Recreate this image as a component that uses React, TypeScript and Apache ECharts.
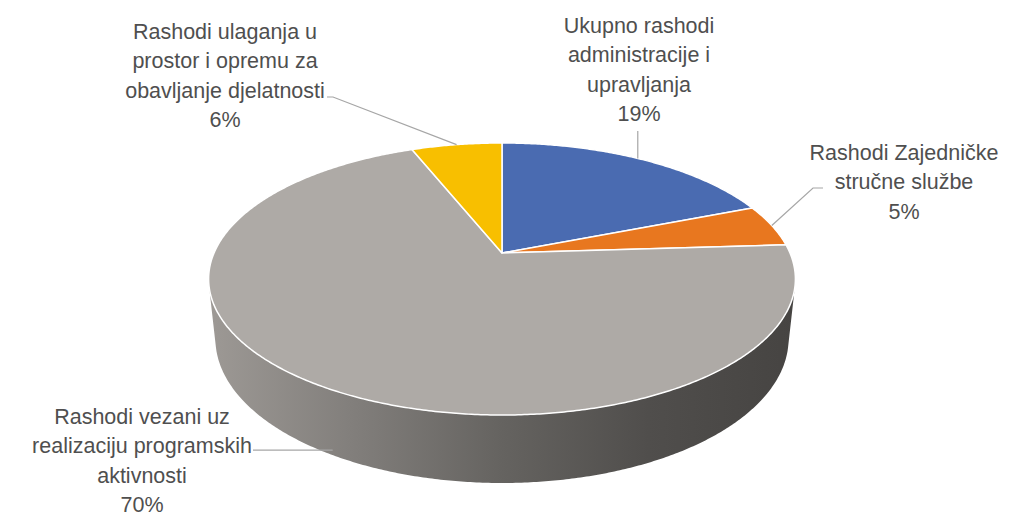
import React, { useEffect, useRef } from "react";
import * as echarts from "echarts";

// ---- data ----
const categories = [
  "Ukupno rashodi\nadministracije i\nupravljanja",
  "Rashodi Zajedničke\nstručne službe",
  "Rashodi vezani uz\nrealizaciju programskih\naktivnosti",
  "Rashodi ulaganja u\nprostor i opremu za\nobavljanje djelatnosti",
];
const values = [19, 5, 70, 6];

// ---- style / layout ----
const palette = ["#4a6bb1", "#e8771f", "#aeaaa6", "#f8bf00"];
const labelCenters = [
  [639, 70],
  [904, 182],
  [142, 461],
  [225, 76],
];

// 3D projection of the pie disk
const CX = 502;
const CY = 253;
const FOC = 1342;
const DIST = 4.66;
const ALPHA = (27.07 * Math.PI) / 180;
const SA = Math.sin(ALPHA);
const CA = Math.cos(ALPHA);
const THICK = 0.235;

function proj(theta: number, y: number): number[] {
  const x = Math.sin(theta);
  const z = Math.cos(theta);
  const v = z * SA + y * CA;
  const depth = DIST + z * CA - y * SA;
  return [CX + (FOC * x) / depth, CY - (FOC * v) / depth];
}

const VIS_A = Math.acos(-1 / (DIST * CA));
const VIS_B = 2 * Math.PI - VIS_A;

function shade(hex: string, f: number): string {
  const n = parseInt(hex.slice(1), 16);
  const r = Math.round(((n >> 16) & 255) * f);
  const g = Math.round(((n >> 8) & 255) * f);
  const b = Math.round((n & 255) * f);
  return `rgb(${r},${g},${b})`;
}

function arcPoints(a: number, b: number, y: number): number[][] {
  const pts: number[][] = [];
  const n = Math.max(2, Math.ceil((b - a) / (Math.PI / 360)));
  for (let k = 0; k <= n; k++) pts.push(proj(a + ((b - a) * k) / n, y));
  return pts;
}

export default function App() {
  const ref = useRef<HTMLDivElement>(null);
  useEffect(() => {
    if (!ref.current) return;
    const chart = echarts.init(ref.current, undefined, { renderer: "svg" });
    const total = values.reduce((s, v) => s + v, 0);
    const cum: number[] = [0];
    values.forEach((v, i) => cum.push(cum[i] + v));
    const ang = (c: number) => (c / total) * 2 * Math.PI;

    const xl = proj(VIS_B, 0)[0];
    const xr = proj(VIS_A, 0)[0];

    const graphics: any[] = [];
    values.forEach((v, i) => {
      const mid = ang((cum[i] + cum[i + 1]) / 2);
      const [lx, ly] = labelCenters[i];
      graphics.push({
        type: "text",
        z: 10,
        style: {
          text: `${categories[i]}\n${v}%`,
          x: lx,
          y: ly,
          fill: "#4f4f4f",
          fontSize: 21.5,
          fontFamily: "Liberation Sans, Arial, sans-serif",
          align: "center",
          verticalAlign: "middle",
          lineHeight: 29.5,
        },
      });
      let pts: number[][] = [];
      if (i === 0) {
        const a = proj(mid, 0);
        pts = [[a[0] - 4, a[1] - 1], [a[0] - 4, 131]];
      } else if (i === 1) {
        const a = proj(mid, 0);
        pts = [a, [813, 188], [823, 188]];
      } else if (i === 2) {
        const a = proj(mid, -THICK * 0.95);
        pts = [[a[0] + 10, a[1] + 2], [253, a[1] + 2]];
      } else {
        const a = proj(mid, 0);
        pts = [a, [333, 97], [327, 97]];
      }
      graphics.push({
        type: "polyline",
        z: 9,
        shape: { points: pts },
        style: { stroke: "#a6a6a6", lineWidth: 1.2, fill: null },
      });
    });

    chart.setOption({
      animation: false,
      backgroundColor: "#ffffff",
      graphic: graphics,
      series: [
        {
          type: "custom",
          coordinateSystem: "none",
          data: values.map((v, i) => [i, v]),
          renderItem: (params: any) => {
            const i = params.dataIndex;
            const a0 = ang(cum[i]);
            const a1 = ang(cum[i + 1]);
            const children: any[] = [];
            const va = Math.max(a0, VIS_A);
            const vb = Math.min(a1, VIS_B);
            if (vb > va) {
              const topRim = arcPoints(va, vb, 0);
              const botRim = arcPoints(va, vb, -THICK).reverse();
              const col = palette[i];
              children.push({
                type: "polygon",
                shape: { points: topRim.concat(botRim) },
                style: {
                  fill: {
                    type: "linear",
                    x: xl,
                    y: 0,
                    x2: xr,
                    y2: 0,
                    global: true,
                    colorStops: [
                      { offset: 0, color: shade(col, 0.9) },
                      { offset: 0.25, color: shade(col, 0.74) },
                      { offset: 0.5, color: shade(col, 0.58) },
                      { offset: 0.75, color: shade(col, 0.46) },
                      { offset: 1, color: shade(col, 0.4) },
                    ],
                  },
                  stroke: null,
                },
              });
            }
            const top = [[CX, CY]].concat(arcPoints(a0, a1, 0));
            children.push({
              type: "polygon",
              shape: { points: top },
              style: {
                fill: palette[i],
                stroke: "#ffffff",
                lineWidth: 1.5,
                lineJoin: "round",
              },
            });
            return { type: "group", children };
          },
        },
      ],
    });
    return () => chart.dispose();
  }, []);
  return (
    <div
      ref={ref}
      style={{ position: "absolute", left: 0, top: 0, width: 1027, height: 515 }}
    />
  );
}
